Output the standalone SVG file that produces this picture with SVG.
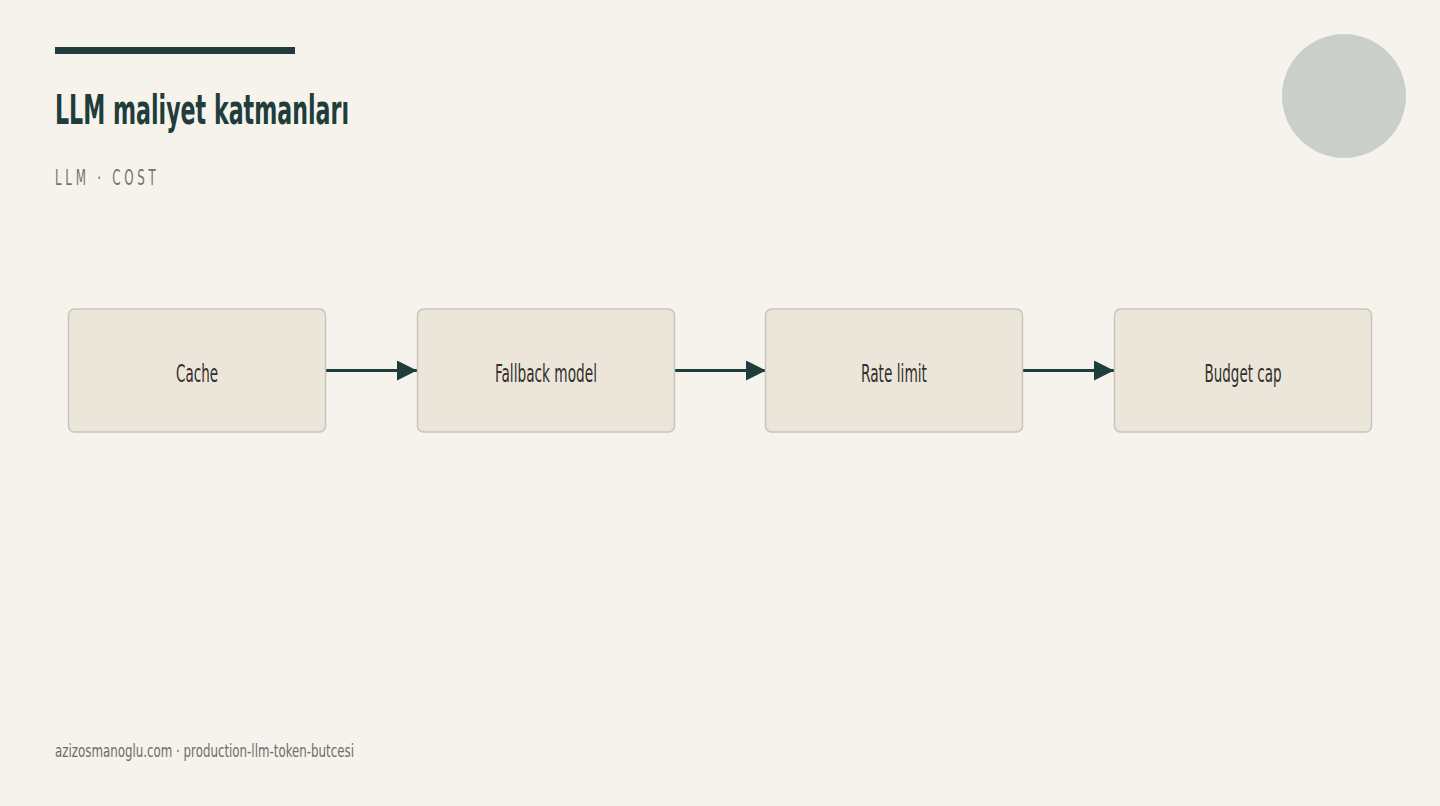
<svg xmlns="http://www.w3.org/2000/svg" width="1440" height="806" viewBox="0 0 1440 806">
<defs>
<style>
.t{font-family:"Liberation Sans Narrow","DejaVu Sans Condensed","Liberation Sans",sans-serif}
.box{fill:#ece6da;stroke:#c4c6be;stroke-width:1.5}
.lbl{font-size:24px;fill:#33302c;text-anchor:middle}
.edge{stroke:#1e3d3b;stroke-width:3;fill:none}
</style>
<marker id="ah" markerWidth="20" markerHeight="20" refX="20" refY="10" orient="auto" markerUnits="userSpaceOnUse">
<path d="M0,0 L20,10 L0,20 Z" fill="#1e3d3b"/>
</marker>
</defs>
<rect width="1440" height="806" fill="#f6f3ed"/>
<rect x="55" y="47" width="240" height="7" fill="#1e3d3b"/>
<circle cx="1344" cy="96" r="62" fill="#cacfc9"/>
<text class="t" x="55" y="124" font-size="40" font-weight="bold" fill="#1e3d3b" textLength="294" lengthAdjust="spacingAndGlyphs">LLM maliyet katmanları</text>
<text class="t" transform="translate(55,185) scale(0.6,1)" x="0" y="0" font-size="22" fill="#77746f" textLength="168" lengthAdjust="spacing">LLM · COST</text>
<g id="connectors">
<line class="edge" x1="326" y1="370.5" x2="417" y2="370.5" marker-end="url(#ah)"/>
<line class="edge" x1="675" y1="370.5" x2="766" y2="370.5" marker-end="url(#ah)"/>
<line class="edge" x1="1023" y1="370.5" x2="1114" y2="370.5" marker-end="url(#ah)"/>
</g>
<g id="node-cache">
<rect class="box" x="68.5" y="309" width="257" height="123" rx="6"/>
<text class="t lbl" x="197" y="382" textLength="42" lengthAdjust="spacingAndGlyphs">Cache</text>
</g>
<g id="node-fallback">
<rect class="box" x="417.5" y="309" width="257" height="123" rx="6"/>
<text class="t lbl" x="546" y="382" textLength="102" lengthAdjust="spacingAndGlyphs">Fallback model</text>
</g>
<g id="node-rate">
<rect class="box" x="765.5" y="309" width="257" height="123" rx="6"/>
<text class="t lbl" x="894" y="382" textLength="66" lengthAdjust="spacingAndGlyphs">Rate limit</text>
</g>
<g id="node-budget">
<rect class="box" x="1114.5" y="309" width="257" height="123" rx="6"/>
<text class="t lbl" x="1243" y="382" textLength="77" lengthAdjust="spacingAndGlyphs">Budget cap</text>
</g>
<text class="t" x="55" y="757" font-size="18" fill="#6e6c68" textLength="299" lengthAdjust="spacingAndGlyphs">azizosmanoglu.com · production-llm-token-butcesi</text>
</svg>
